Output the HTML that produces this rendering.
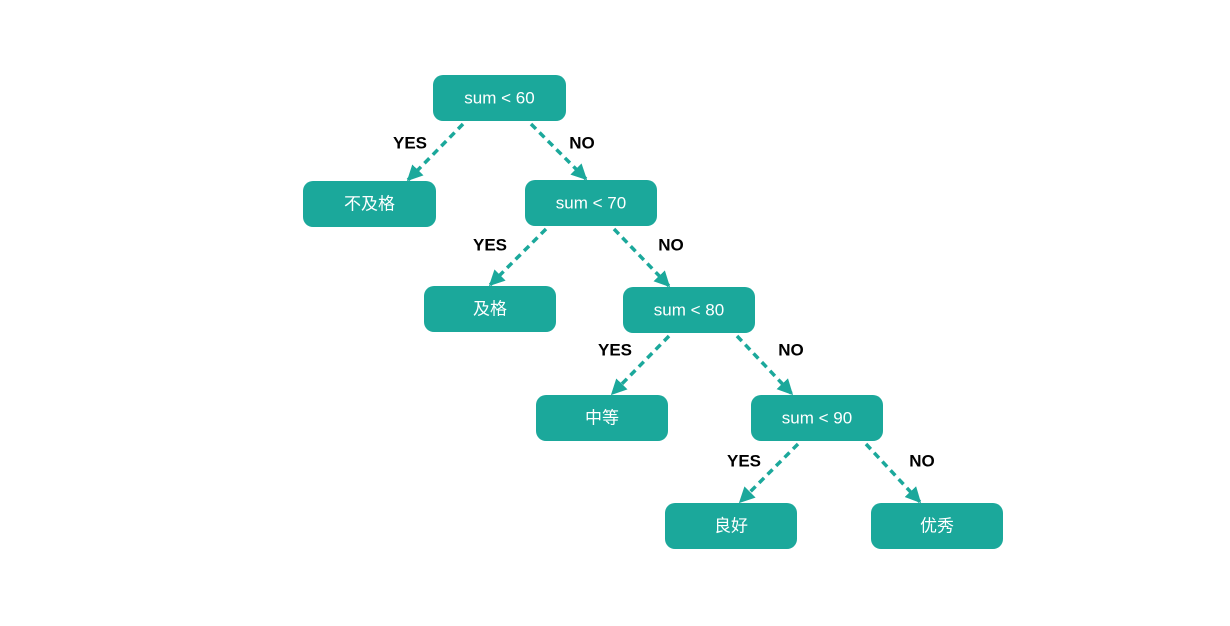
<!DOCTYPE html>
<html><head><meta charset="utf-8"><style>
html,body{margin:0;padding:0;background:#fff;}
svg{display:block;}
.b{fill:#1ba89b;}
.t{fill:#fff;font-family:"Liberation Sans","Noto Sans CJK SC",sans-serif;font-size:17px;text-anchor:middle;dominant-baseline:central;}
.l{fill:#000;font-family:"Liberation Sans",sans-serif;font-size:17px;font-weight:bold;text-anchor:middle;dominant-baseline:central;}
.e{stroke:#1ba89b;stroke-width:3.5;stroke-dasharray:7 5;fill:none;}
</style></head><body>
<svg width="1230" height="626" viewBox="0 0 1230 626">
<defs><marker id="a" viewBox="0 0 10 10" refX="9" refY="5" markerWidth="4.5" markerHeight="4.5" orient="auto"><path d="M0,0L10,5L0,10z" fill="#1ba89b"/></marker></defs>
<g>
<rect class="b" x="433" y="75" width="133" height="46" rx="10"/><text class="t" x="499.5" y="98">sum &lt; 60</text>
<rect class="b" x="303" y="181" width="133" height="46" rx="10"/><text class="t" x="369.5" y="204">不及格</text>
<rect class="b" x="525" y="180" width="132" height="46" rx="10"/><text class="t" x="591" y="203">sum &lt; 70</text>
<rect class="b" x="424" y="286" width="132" height="46" rx="10"/><text class="t" x="490" y="309">及格</text>
<rect class="b" x="623" y="287" width="132" height="46" rx="10"/><text class="t" x="689" y="310">sum &lt; 80</text>
<rect class="b" x="536" y="395" width="132" height="46" rx="10"/><text class="t" x="602" y="418">中等</text>
<rect class="b" x="751" y="395" width="132" height="46" rx="10"/><text class="t" x="817" y="418">sum &lt; 90</text>
<rect class="b" x="665" y="503" width="132" height="46" rx="10"/><text class="t" x="731" y="526">良好</text>
<rect class="b" x="871" y="503" width="132" height="46" rx="10"/><text class="t" x="937" y="526">优秀</text>
</g>
<g>
<line class="e" x1="463" y1="124" x2="408" y2="180" marker-end="url(#a)"/>
<line class="e" x1="531" y1="124" x2="586" y2="179" marker-end="url(#a)"/>
<line class="e" x1="546" y1="229" x2="490" y2="285" marker-end="url(#a)"/>
<line class="e" x1="614" y1="229" x2="669" y2="286" marker-end="url(#a)"/>
<line class="e" x1="669" y1="336" x2="612" y2="394" marker-end="url(#a)"/>
<line class="e" x1="737" y1="336" x2="792" y2="394" marker-end="url(#a)"/>
<line class="e" x1="798" y1="444" x2="740" y2="502" marker-end="url(#a)"/>
<line class="e" x1="866" y1="444" x2="920" y2="502" marker-end="url(#a)"/>
</g>
<text class="l" x="410" y="143">YES</text><text class="l" x="582" y="143">NO</text>
<text class="l" x="490" y="245">YES</text><text class="l" x="671" y="245">NO</text>
<text class="l" x="615" y="350">YES</text><text class="l" x="791" y="350">NO</text>
<text class="l" x="744" y="461">YES</text><text class="l" x="922" y="461">NO</text>
</svg>
</body></html>
